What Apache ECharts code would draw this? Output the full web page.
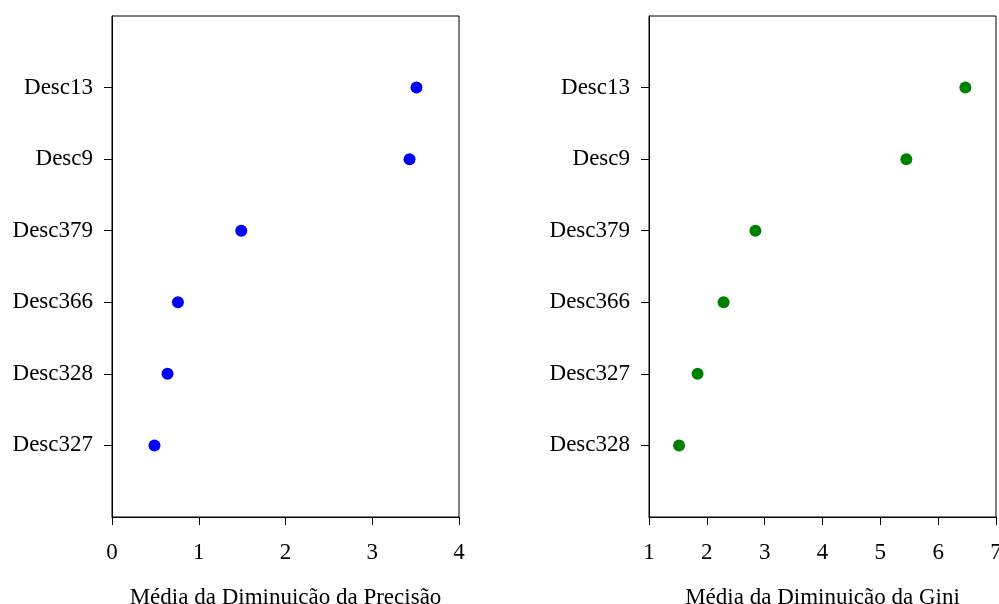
<!DOCTYPE html>
<html>
<head>
<meta charset="utf-8">
<script src="https://cdn.jsdelivr.net/npm/echarts@6/dist/echarts.min.js"></script>
<style>
  html, body { margin: 0; padding: 0; background: #fff; }
  #chart { width: 999px; height: 604px; }
</style>
</head>
<body>
<div id="chart"></div>
<script>
// categories listed top to bottom
const precisionCats = ['Desc13', 'Desc9', 'Desc379', 'Desc366', 'Desc328', 'Desc327'];
const precisionVals = [3.51, 3.43, 1.49, 0.76, 0.64, 0.49];
const giniCats = ['Desc13', 'Desc9', 'Desc379', 'Desc366', 'Desc327', 'Desc328'];
const giniVals = [6.47, 5.45, 2.84, 2.29, 1.84, 1.52];
const precisionTicks = [0, 1, 2, 3, 4];
const giniTicks = [1, 2, 3, 4, 5, 6, 7];

const font = "'Liberation Serif', 'Times New Roman', serif";
const rowPos = [1, 2, 3, 4, 5, 6];

const chart = echarts.init(document.getElementById('chart'), null, { renderer: 'canvas' });

function yAxis(idx, cats) {
  return {
    type: 'value',
    gridIndex: idx,
    min: 0,
    max: 7,
    inverse: true,
    splitLine: { show: false },
    axisLine: { show: true, onZero: false, lineStyle: { color: '#000', width: 1 } },
    axisTick: { show: true, inside: false, length: 8, customValues: rowPos, lineStyle: { color: '#000' } },
    axisLabel: {
      customValues: rowPos,
      margin: 19,
      color: '#000',
      fontFamily: font,
      fontSize: 23,
      formatter: v => cats[Math.round(v) - 1] || ''
    }
  };
}

function xAxis(idx, ticks, name) {
  return {
    type: 'value',
    gridIndex: idx,
    min: ticks[0],
    max: ticks[ticks.length - 1],
    interval: 1,
    splitLine: { show: false },
    axisLine: { show: true, onZero: false, lineStyle: { color: '#000', width: 1 } },
    axisTick: { show: true, length: 8, lineStyle: { color: '#000' } },
    axisLabel: { margin: 24, color: '#000', fontFamily: font, fontSize: 23 },
    name: name,
    nameLocation: 'middle',
    nameGap: 69,
    nameTextStyle: { color: '#000', fontFamily: font, fontSize: 23 }
  };
}

const gridBase = {
  top: 16, width: 347, height: 501, show: true,
  borderColor: '#000', borderWidth: 1, backgroundColor: 'transparent',
  containLabel: false, outerBoundsMode: 'none'
};

chart.setOption({
  animation: false,
  backgroundColor: '#fff',
  grid: [
    Object.assign({ left: 112 }, gridBase),
    Object.assign({ left: 649 }, gridBase)
  ],
  xAxis: [
    xAxis(0, precisionTicks, 'Média da Diminuição da Precisão'),
    xAxis(1, giniTicks, 'Média da Diminuição da Gini')
  ],
  yAxis: [yAxis(0, precisionCats), yAxis(1, giniCats)],
  series: [
    {
      type: 'scatter',
      xAxisIndex: 0,
      yAxisIndex: 0,
      symbolSize: 12,
      itemStyle: { color: '#0000ff', opacity: 1 },
      data: precisionVals.map((v, i) => [v, rowPos[i]])
    },
    {
      type: 'scatter',
      xAxisIndex: 1,
      yAxisIndex: 1,
      symbolSize: 12,
      itemStyle: { color: '#008000', opacity: 1 },
      data: giniVals.map((v, i) => [v, rowPos[i]])
    }
  ]
});
</script>
</body>
</html>
